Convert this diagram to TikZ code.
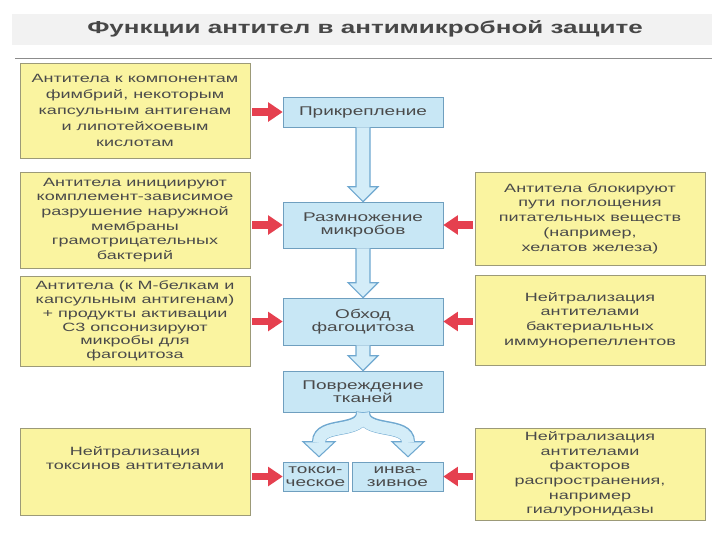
\documentclass[tikz,border=0pt]{standalone}
\usepackage{fontspec}
\setmainfont{Liberation Sans}[FakeStretch=1.5]
\usetikzlibrary{arrows.meta,calc}
\definecolor{ink}{HTML}{4A4A4A}
\definecolor{notefill}{HTML}{FAF4A0}
\definecolor{noteline}{HTML}{9C9A78}
\definecolor{stagefill}{HTML}{C8E7F5}
\definecolor{stageline}{HTML}{6F9FBF}
\definecolor{flowfill}{HTML}{D4EDF8}
\definecolor{flowline}{HTML}{6FA8D0}
\definecolor{hitred}{HTML}{E5404F}
\begin{document}
\begin{tikzpicture}[x=.75pt,y=-.75pt,font=\fontsize{9}{11}\selectfont,text=ink,
	note/.style={draw=noteline,fill=notefill,align=center,inner sep=0pt,minimum width=172.5pt},
	stage/.style={draw=stageline,fill=stagefill,align=center,inner sep=0pt,minimum width=120pt,font=\fontsize{9.5}{10}\selectfont},
	hit/.style={draw=hitred,line width=5.5pt,shorten <=1.5pt,-{Triangle[length=11pt,width=14pt]}},
	flow/.style={draw=flowline,fill=flowfill,line width=.8pt},
	flowedge/.style={draw=flowline,line width=10.5pt},
	flowcore/.style={draw=flowfill,line width=9pt}]
	\useasboundingbox (0,0) rectangle (720,540);
	\fill[black!5] (12,14) rectangle (712,45);
	\draw[black!45] (15,58)--(712,58);
	\node[font=\fontsize{13}{15}\bfseries\selectfont,text=black!72] (title) at (365,29) {Функции антител в антимикробной защите};
	% central chain
	\node[stage,minimum height=22.5pt] (att) at (363,112) {Прикрепление};
	\node[stage,minimum height=34.5pt] (mult) at (363,225) {Размножение\\микробов};
	\node[stage,minimum height=35.25pt] (evade) at (363,321.5) {Обход\\фагоцитоза};
	\node[stage,minimum height=30.75pt] (damage) at (363,391.5) {Повреждение\\тканей};
	\node[stage,minimum width=48.75pt,minimum height=21.75pt] (tox) at (315.5,476.5) {токси-\\ческое};
	\node[stage,minimum width=68.25pt,minimum height=21.75pt] (inv) at (397.5,476.5) {инва-\\зивное};
	% antibody effects
	\node[note,minimum height=71.25pt,font=\fontsize{9}{12}\selectfont] (fimbriae) at (135,110.5) {Антитела к компонентам\\фимбрий, некоторым\\капсульным антигенам\\и липотейхоевым\\кислотам};
	\node[note,minimum height=72pt] (membrane) at (135,220) {Антитела инициируют\\комплемент-зависимое\\разрушение наружной\\мембраны\\грамотрицательных\\бактерий};
	\node[note,minimum height=67.5pt,font=\fontsize{9}{10.3}\selectfont] (opsonin) at (135,321) {Антитела (к М-белкам и\\капсульным антигенам)\\+ продукты активации\\C3 опсонизируют\\микробы для\\фагоцитоза};
	\node[note,minimum height=65.25pt] (toxins) at (135,471.5) {Нейтрализация\\токсинов антителами\\[9pt]};
	\node[note,minimum height=69.75pt] (iron) at (590,218.5) {Антитела блокируют\\пути поглощения\\питательных веществ\\(например,\\хелатов железа)};
	\node[note,minimum height=67.5pt] (repel) at (590,320) {Нейтрализация\\антителами\\бактериальных\\иммунорепеллентов};
	\node[note,minimum height=69pt] (spread) at (590,474) {Нейтрализация\\антителами\\факторов\\распространения,\\например\\гиалуронидазы};
	% block arrows
	\foreach \a/\b in {att/mult,mult/evade,evade/damage}
		\filldraw[flow] ($(\a.south)+(-7,0)$)--($(\b.north)+(-7,-15)$)--++(-8,0)--(\b.north)--++(15,-15)--++(-8,0)--($(\a.south)+(7,0)$);
	\coordinate (tl) at ($(tox.north)+(3.5,-20)$);
	\coordinate (tr) at ($(inv.north)+(10.5,-20)$);
	\draw[flowedge] (damage.south) .. controls +(0,22) and +(0,-20) .. (tl) (damage.south) .. controls +(0,22) and +(0,-20) .. (tr);
	\filldraw[flow] ($(tl)+(-16,0)$)--($(tl)+(0,15)$)--($(tl)+(16,0)$)--cycle ($(tr)+(-16,0)$)--($(tr)+(0,15)$)--($(tr)+(16,0)$)--cycle;
	\draw[flowcore] ($(damage.south)+(0,.7)$) .. controls +(0,22) and +(0,-21) .. ($(tl)+(0,1)$) ($(damage.south)+(0,.7)$) .. controls +(0,22) and +(0,-21) .. ($(tr)+(0,1)$);
	% red arrows
	\draw[hit] (fimbriae.east|-att.west)--(att.west);
	\draw[hit] (membrane.east|-mult.west)--(mult.west);
	\draw[hit] (opsonin.east|-evade.west)--(evade.west);
	\draw[hit] (toxins.east|-tox.west)--(tox.west);
	\draw[hit] (iron.west|-mult.east)--(mult.east);
	\draw[hit] (repel.west|-evade.east)--(evade.east);
	\draw[hit] (spread.west|-inv.east)--(inv.east);
\end{tikzpicture}
\end{document}
